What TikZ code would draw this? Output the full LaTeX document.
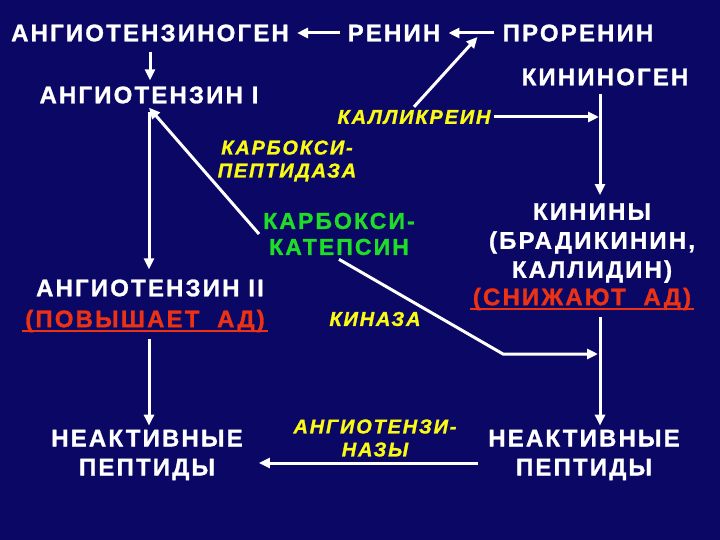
\documentclass[tikz,border=0pt]{standalone}
\usepackage{fontspec}
\setmainfont{Liberation Sans}[LetterSpace=9,BoldFeatures={FakeBold=1.2},BoldItalicFeatures={FakeBold=1.2}]
\usetikzlibrary{arrows.meta,calc}
\definecolor{slide}{RGB}{10,8,100}
\definecolor{enzy}{RGB}{250,250,20}
\definecolor{cath}{RGB}{30,220,40}
\definecolor{bp}{RGB}{235,50,20}

\begin{document}
\begin{tikzpicture}[x=1pt,y=-1pt,
  sub/.style={text=white,font=\bfseries\fontsize{24}{29}\selectfont,align=center,inner sep=4pt},
  enz/.style={text=enzy,font=\bfseries\itshape\fontsize{20}{23}\selectfont,align=center,inner sep=3pt},
  eff/.style={text=bp,font=\bfseries\fontsize{24}{28}\selectfont,inner sep=3pt},
  uline/.style={draw=bp,line width=2.4pt},
  arr/.style={draw=white,line width=3pt,-{Triangle[length=11pt,width=10pt]}}]
\fill[slide] (0,0) rectangle (720,540);
% substrates
\node[sub] (agen) at (150,33) {АНГИОТЕНЗИНОГЕН};
\node[sub] (renin) at (394,33) {РЕНИН};
\node[sub] (prorenin) at (578,33) {ПРОРЕНИН};
\node[sub] (ang1) at (149,95) {АНГИОТЕНЗИН I};
\node[sub] (kininogen) at (605,77) {КИНИНОГЕН};
\node[sub] (ang2) at (150,288) {АНГИОТЕНЗИН II};
\node[eff] (povysh) at (145,321) {(ПОВЫШАЕТ\ \ АД)};
\node[sub] (kininy) at (592,243) {КИНИНЫ\\(БРАДИКИНИН,\\КАЛЛИДИН)};
\node[eff] (snizh) at (582,299) {(СНИЖАЮТ\ \ АД)};
\node[sub] (inact1) at (147,455) {НЕАКТИВНЫЕ\\ПЕПТИДЫ};
\node[sub] (inact2) at (584,455) {НЕАКТИВНЫЕ\\ПЕПТИДЫ};
\draw[uline] ([yshift=-4pt]povysh.base west) -- ([yshift=-4pt]povysh.base east);
\draw[uline] ([yshift=-4pt]snizh.base west) -- ([yshift=-4pt]snizh.base east);
% enzymes
\node[enz] (kallikrein) at (414,117) {КАЛЛИКРЕИН};
\node[enz] (cpep) at (287,161) {КАРБОКСИ-\\ПЕПТИДАЗА};
\node[sub,text=cath,font=\bfseries\fontsize{23}{26}\selectfont] (ccat) at (339,234) {КАРБОКСИ-\\КАТЕПСИН};
\node[enz] (kinaza) at (375,319) {КИНАЗА};
\node[enz] (angaz) at (375,438) {АНГИОТЕНЗИ-\\НАЗЫ};
% arrows
\coordinate (kx) at (600,0);
\coordinate (rmid) at ($(renin.east)!0.5!(prorenin.west)+(6,4)$);
\coordinate (kbend) at (503,354);
\draw[arr,shorten <=4pt,shorten >=4pt] (renin) -- (agen);
\draw[arr,shorten <=4pt,shorten >=4pt] (prorenin) -- (renin);
\draw[arr] (kallikrein.north) -- (rmid);
\draw[arr,shorten <=4pt,shorten >=4pt] (kininogen.south -| kx) -- (kininy.north -| kx);
\draw[arr,shorten >=1pt] (kallikrein.east) -- (kallikrein.east -| kx);
\draw[arr,shorten <=6pt,shorten >=2pt] (agen.south) -- (agen.south |- ang1.north);
\draw[arr,shorten <=4pt,shorten >=6pt] (ang1.south) -- (ang1.south |- ang2.north);
\draw[arr] (ccat.west) -- (ang1.south);
\draw[arr,shorten >=2pt] (ccat.south) -- (kbend) -- (kbend -| kx);
\draw[arr,shorten <=4pt] (snizh.south -| kx) -- (inact2.north -| kx);
\draw[arr,shorten <=4pt] (ang1.south |- povysh.south) -- (ang1.south |- inact1.north);
\draw[arr,shorten <=6pt,shorten >=12pt] ([yshift=-8pt]inact2.west) -- ([yshift=-8pt]inact1.east);
\end{tikzpicture}
\end{document}
